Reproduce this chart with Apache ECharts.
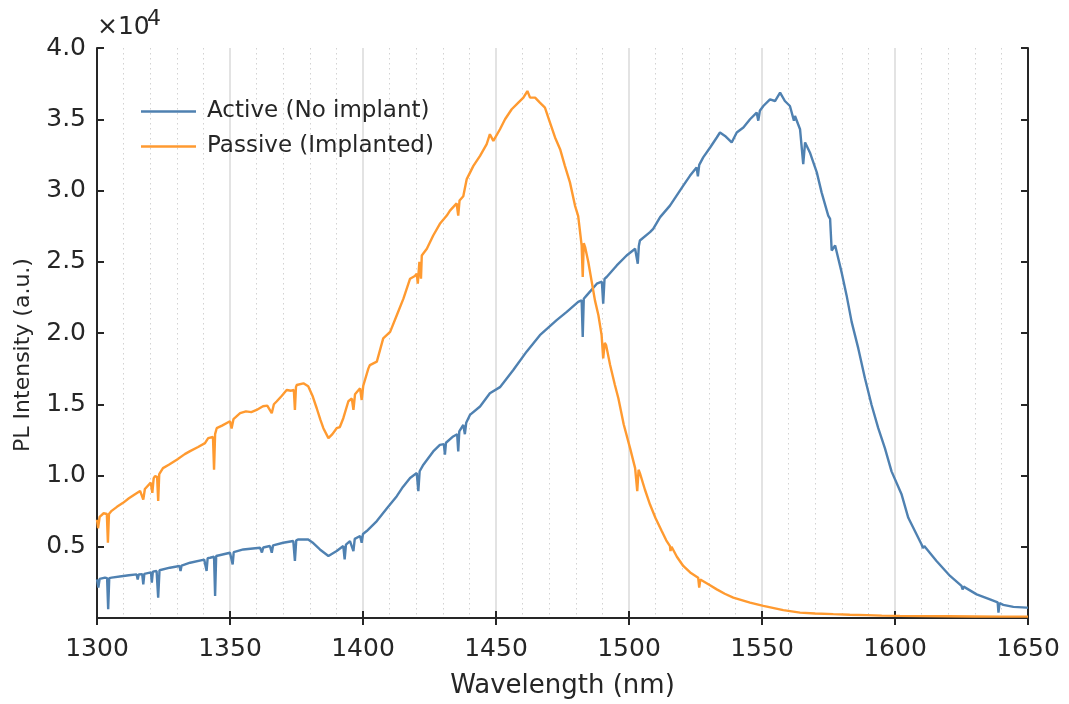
<!DOCTYPE html>
<html>
<head>
<meta charset="utf-8">
<script src="https://cdn.jsdelivr.net/npm/echarts@6/dist/echarts.min.js"></script>
<style>
  html, body { margin: 0; padding: 0; background: #fff; }
  #chart { width: 1069px; height: 704px; }
</style>
</head>
<body>
<div id="chart"></div>
<script>
// Photoluminescence spectra, wavelength in nm, intensity in counts
const activeWl = [
  1300.0, 1300.5, 1301.0, 1303.0, 1303.8, 1304.2, 1304.6, 1305.5, 1309.9, 1312.0,
  1314.9, 1315.3, 1315.7, 1317.0, 1317.4, 1317.8, 1320.3, 1320.6, 1321.0, 1322.4,
  1323.0, 1323.5, 1327.4, 1331.0, 1331.4, 1331.8, 1335.0, 1340.3, 1340.6, 1341.2,
  1341.6, 1342.5, 1344.0, 1344.4, 1344.8, 1350.0, 1351.0, 1351.4, 1355.0, 1361.3,
  1362.0, 1362.5, 1365.0, 1365.7, 1366.2, 1370.0, 1373.8, 1374.4, 1374.9, 1375.7,
  1379.4, 1381.0, 1383.8, 1387.0, 1390.1, 1392.6, 1393.1, 1393.6, 1395.1, 1396.4,
  1396.9, 1398.9, 1399.5, 1400.0, 1401.4, 1405.2, 1409.0, 1412.7, 1415.0, 1417.7,
  1420.2, 1420.8, 1421.3, 1422.7, 1426.4, 1428.9, 1430.4, 1430.8, 1431.2, 1433.9,
  1435.4, 1435.8, 1436.2, 1437.7, 1438.3, 1438.8, 1440.2, 1444.0, 1447.7, 1451.5,
  1456.5, 1461.5, 1466.5, 1472.8, 1476.6, 1480.9, 1482.2, 1482.6, 1483.0, 1484.1,
  1487.9, 1489.8, 1490.3, 1490.8, 1491.6, 1495.4, 1499.1, 1502.3, 1503.3, 1503.7,
  1504.1, 1507.9, 1509.1, 1511.7, 1515.4, 1517.9, 1520.4, 1522.9, 1525.4, 1525.9,
  1526.4, 1527.9, 1530.5, 1533.0, 1534.2, 1536.1, 1538.6, 1540.5, 1543.0, 1545.5,
  1548.0, 1548.6, 1549.2, 1550.5, 1553.0, 1554.9, 1556.8, 1558.6, 1560.5, 1562.0,
  1562.4, 1564.3, 1565.5, 1566.2, 1568.0, 1570.6, 1572.4, 1574.9, 1575.6, 1576.2,
  1577.5, 1580.0, 1581.8, 1583.7, 1586.2, 1588.7, 1591.2, 1593.7, 1596.2, 1598.7,
  1602.5, 1605.0, 1610.0, 1610.5, 1611.0, 1615.6, 1620.7, 1625.0, 1625.4, 1625.8,
  1630.7, 1635.7, 1638.6, 1638.9, 1639.3, 1640.7, 1644.5, 1649.5, 1650.0
];
const activeVal = [
  2710, 2130, 2750, 2830, 2800, 620, 2800, 2830, 2950, 3000,
  3060, 2700, 3050, 3080, 2360, 3100, 3200, 2480, 3250, 3300,
  1430, 3350, 3530, 3650, 3300, 3680, 3880, 4100, 4110, 3300,
  4200, 4230, 4300, 1550, 4350, 4580, 3760, 4620, 4810, 4930,
  4600, 4950, 5050, 4580, 5100, 5280, 5400, 4000, 5450, 5510,
  5510, 5300, 4810, 4350, 4700, 5050, 4110, 5150, 5400, 4700,
  5550, 5750, 5280, 5900, 6100, 6800, 7700, 8550, 9200, 9830,
  10170, 8900, 10300, 10760, 11690, 12150, 12200, 11460, 12300, 12740,
  12900, 11690, 13100, 13550, 12900, 13700, 14250, 14840, 15770, 16200,
  17400, 18690, 19850, 20900, 21480, 22180, 22300, 19730, 22400, 22640,
  23460, 23600, 22060, 23800, 23930, 24740, 25440, 25910, 24860, 26100,
  26490, 27080, 27310, 28130, 28940, 29640, 30340, 31030, 31620, 31000,
  31800, 32320, 33020, 33720, 34070, 33830, 33370, 34070, 34420, 35000,
  35470, 34900, 35600, 35930, 36400, 36280, 36870, 36280, 35930, 34900,
  35230, 34300, 31850, 33370, 32670, 31270, 29870, 28240, 28010, 25790,
  26140, 24200, 22640, 20780, 18920, 16820, 14950, 13320, 11920, 10290,
  8660, 7030, 5160, 4900, 5050, 4000, 2950, 2250, 2000, 2200,
  1660, 1310, 1100, 380, 1050, 920, 780, 730, 720
];

const passiveWl = [
  1300.0, 1300.4, 1301.0, 1302.5, 1303.7, 1304.1, 1304.5, 1305.5, 1307.5, 1309.8,
  1312.0, 1314.0, 1316.2, 1316.8, 1317.4, 1318.0, 1320.2, 1320.8, 1321.3, 1321.8,
  1322.6, 1323.0, 1323.4, 1324.8, 1327.0, 1330.0, 1333.0, 1335.0, 1338.0, 1340.6,
  1341.8, 1343.6, 1344.0, 1344.4, 1345.0, 1347.0, 1350.0, 1350.6, 1351.3, 1353.8,
  1356.0, 1358.0, 1360.0, 1362.4, 1364.0, 1365.7, 1366.5, 1367.6, 1369.5, 1371.3,
  1373.0, 1374.0, 1374.4, 1374.8, 1375.1, 1377.6, 1379.4, 1381.0, 1382.6, 1384.0,
  1385.1, 1387.0, 1388.5, 1390.1, 1391.3, 1392.6, 1394.5, 1395.8, 1396.4, 1397.0,
  1398.9, 1399.5, 1400.1, 1402.0, 1402.6, 1405.2, 1407.6, 1410.2, 1412.7, 1415.2,
  1417.7, 1419.5, 1420.2, 1420.6, 1421.2, 1421.8, 1422.1, 1424.0, 1426.4, 1428.9,
  1431.5, 1432.7, 1435.2, 1435.8, 1436.3, 1437.7, 1439.0, 1441.5, 1444.0, 1446.5,
  1447.7, 1449.0, 1451.5, 1453.4, 1455.9, 1458.4, 1460.3, 1461.8, 1462.8, 1464.7,
  1466.5, 1468.4, 1470.3, 1472.2, 1474.1, 1475.9, 1477.8, 1479.7, 1480.9, 1482.2,
  1482.6, 1483.0, 1483.5, 1484.7, 1486.0, 1487.2, 1488.5, 1489.7, 1490.3, 1490.9,
  1491.4, 1492.9, 1494.7, 1496.0, 1498.0, 1500.4, 1502.3, 1503.1, 1503.6, 1504.1,
  1506.0, 1507.9, 1510.0, 1512.3, 1514.0, 1515.4, 1515.6, 1516.0, 1518.0, 1520.4,
  1523.0, 1526.0, 1526.4, 1526.8, 1530.0, 1533.0, 1536.0, 1539.2, 1545.5, 1550.5,
  1558.0, 1564.3, 1570.0, 1576.8, 1583.0, 1589.4, 1595.0, 1601.9, 1610.0, 1620.0,
  1630.0, 1640.0, 1650.0
];
const passiveVal = [
  6900, 6300, 7100, 7350, 7300, 5280, 7300, 7520, 7800, 8080,
  8400, 8650, 8920, 8950, 8310, 9050, 9500, 8780, 9800, 9960,
  9900, 8210, 10100, 10520, 10750, 11100, 11500, 11710, 12000, 12270,
  12620, 12700, 10410, 12900, 13320, 13500, 13810, 13300, 13950, 14370,
  14500, 14450, 14600, 14860, 14900, 14370, 15000, 15210, 15600, 16000,
  15950, 16000, 14600, 16200, 16350, 16470, 16260, 15600, 14720, 13900,
  13320, 12620, 12900, 13320, 13400, 14020, 15210, 15400, 14600, 15700,
  16120, 15300, 16300, 17500, 17750, 17990, 19620, 20080, 21250, 22410,
  23810, 24000, 24160, 23460, 25000, 23810, 25440, 25910, 26840, 27660,
  28240, 28590, 29100, 28240, 29300, 29600, 30800, 31730, 32430, 33250,
  33950, 33480, 34300, 35000, 35700, 36170, 36520, 36980, 36520, 36520,
  36170, 35820, 34770, 33720, 32900, 31730, 30570, 28940, 28200, 26140,
  23930, 26300, 26030, 24980, 23580, 22290, 21250, 19850, 18220, 19300,
  19150, 17750, 16350, 15420, 13600, 11920, 10520, 8900, 10400, 10170,
  9000, 7960, 7000, 6100, 5450, 5050, 4700, 5000, 4300, 3650,
  3200, 2830, 2130, 2700, 2350, 2010, 1700, 1430, 1080, 850,
  550, 380, 320, 270, 230, 200, 170, 150, 130, 120,
  110, 100, 100
];

const seriesNames = ['Active (No implant)', 'Passive (Implanted)'];
const xTicks = [1300, 1350, 1400, 1450, 1500, 1550, 1600, 1650];

const zip = (xs, ys) => xs.map((x, i) => [x, ys[i]]);

const FONT = "'DejaVu Sans', 'Liberation Sans', Arial, sans-serif";
const INK = '#262626';
const BLUE = '#4F81B1';
const ORANGE = '#FF9A30';

const chart = echarts.init(document.getElementById('chart'), null, { renderer: 'canvas' });

const xBase = {
  type: 'value',
  min: xTicks[0],
  max: xTicks[xTicks.length - 1],
  interval: 50,
  axisLine: { show: true, lineStyle: { color: INK, width: 2 } },
  axisTick: { show: true, inside: true, length: 7, lineStyle: { color: INK, width: 2 } }
};
const yBase = {
  type: 'value',
  min: 0,
  max: 40000,
  interval: 5000,
  axisLine: { show: true, lineStyle: { color: INK, width: 2 } },
  axisTick: { show: true, inside: true, length: 7, lineStyle: { color: INK, width: 2 } },
  splitLine: { show: false }
};

chart.setOption({
  animation: false,
  backgroundColor: '#ffffff',
  textStyle: { fontFamily: FONT },
  grid: { left: 97, right: 41, top: 48, bottom: 85, containLabel: false },
  graphic: [
    // exponent marker for the intensity axis
    { type: 'text', left: 97, top: 15, style: { text: '\u00d710', font: '25px ' + FONT, fill: INK } },
    { type: 'text', left: 147, top: 8, style: { text: '4', font: '22px ' + FONT, fill: INK } },
    // intensity axis title
    {
      type: 'text', x: 23, y: 355, rotation: Math.PI / 2,
      style: {
        text: 'PL Intensity (a.u.)', font: '22px ' + FONT, fill: INK,
        textAlign: 'center', textVerticalAlign: 'middle'
      }
    }
  ],
  legend: {
    orient: 'vertical',
    left: 136,
    top: 95,
    itemWidth: 55,
    itemHeight: 2.5,
    itemGap: 12,
    icon: 'rect',
    data: seriesNames,
    textStyle: { fontSize: 23, color: INK, fontFamily: FONT, padding: [0, 0, 0, 6] }
  },
  xAxis: [
    Object.assign({}, xBase, {
      position: 'bottom',
      name: 'Wavelength (nm)',
      nameLocation: 'middle',
      nameGap: 55,
      nameTextStyle: { fontSize: 26, color: INK, fontFamily: FONT },
      axisLabel: {
        show: true, fontSize: 25, color: INK, margin: 19, fontFamily: FONT,
        formatter: v => String(v)
      },
      splitLine: { show: true, lineStyle: { color: '#e3e3e3', width: 2 } },
      minorTick: { show: false, splitNumber: 5 },
      minorSplitLine: { show: true, lineStyle: { color: '#d2d2d2', width: 1, type: [1.5, 3.5] } }
    }),
    Object.assign({}, xBase, {
      position: 'top',
      axisLabel: { show: false },
      splitLine: { show: false }
    })
  ],
  yAxis: [
    Object.assign({}, yBase, {
      position: 'left',
      axisLabel: {
        show: true, fontSize: 25, color: INK, margin: 11, fontFamily: FONT,
        formatter: v => (v === 0 ? '' : (v / 10000).toFixed(1))
      }
    }),
    Object.assign({}, yBase, {
      position: 'right',
      axisLabel: { show: false }
    })
  ],
  series: [
    {
      name: seriesNames[0],
      type: 'line',
      xAxisIndex: 0,
      yAxisIndex: 0,
      data: zip(activeWl, activeVal),
      showSymbol: false,
      symbol: 'none',
      lineStyle: { color: BLUE, width: 2.4 },
      itemStyle: { color: BLUE }
    },
    {
      name: seriesNames[1],
      type: 'line',
      xAxisIndex: 0,
      yAxisIndex: 0,
      data: zip(passiveWl, passiveVal),
      showSymbol: false,
      symbol: 'none',
      lineStyle: { color: ORANGE, width: 2.4 },
      itemStyle: { color: ORANGE }
    }
  ]
});
</script>
</body>
</html>
